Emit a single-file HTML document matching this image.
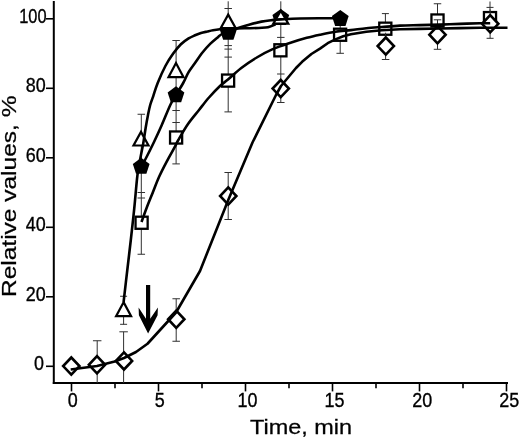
<!DOCTYPE html>
<html lang="en"><head><meta charset="utf-8"><title>Relative values vs time</title>
<style>html,body{margin:0;padding:0;background:#fff}svg{display:block}text{font-family:"Liberation Sans",sans-serif;fill:#000}</style></head><body>
<svg width="520" height="440" viewBox="0 0 520 440">
<rect width="520" height="440" fill="#fff"/>
<g stroke="#000" stroke-width="2" fill="none" stroke-linecap="butt">
<path d="M53.8 1V383.9"/>
<path d="M52.8 382.9H508"/>
</g>
<g stroke="#000" stroke-width="1.6" fill="none">
<path d="M46 366.30H53"/>
<path d="M46 296.80H53"/>
<path d="M46 227.30H53"/>
<path d="M46 157.80H53"/>
<path d="M46 88.30H53"/>
<path d="M46 18.80H53"/>
<path d="M71.50 383V391.4"/>
<path d="M158.50 383V391.4"/>
<path d="M245.50 383V391.4"/>
<path d="M332.50 383V391.4"/>
<path d="M419.50 383V391.4"/>
<path d="M506.50 383V391.4"/>
<path d="M115.00 383V388.3"/>
<path d="M202.00 383V388.3"/>
<path d="M289.00 383V388.3"/>
<path d="M376.00 383V388.3"/>
<path d="M463.00 383V388.3"/>
</g>
<g font-size="20.5" stroke="#000" stroke-width="0.35">
<text transform="translate(44.1 370.30) scale(0.8750 1)" text-anchor="end">0</text>
<text transform="translate(45.8 300.80) scale(0.8750 1)" text-anchor="end">20</text>
<text transform="translate(45.8 231.30) scale(0.8750 1)" text-anchor="end">40</text>
<text transform="translate(45.8 161.80) scale(0.8750 1)" text-anchor="end">60</text>
<text transform="translate(45.8 92.30) scale(0.8750 1)" text-anchor="end">80</text>
<text transform="translate(46.6 22.80) scale(0.8006 1)" text-anchor="end">100</text>
<text transform="translate(72.80 407.1) scale(0.875 1)" text-anchor="middle">0</text>
<text transform="translate(159.80 407.1) scale(0.875 1)" text-anchor="middle">5</text>
<text transform="translate(247.40 407.1) scale(0.875 1)" text-anchor="middle">10</text>
<text transform="translate(334.40 407.1) scale(0.875 1)" text-anchor="middle">15</text>
<text transform="translate(422.20 407.1) scale(0.875 1)" text-anchor="middle">20</text>
<text transform="translate(509.20 407.1) scale(0.875 1)" text-anchor="middle">25</text>
</g>
<text transform="translate(301 434.1) scale(1.19 1)" font-size="19.7" text-anchor="middle" stroke="#000" stroke-width="0.25">Time, min</text>
<text transform="translate(16.3 196.3) rotate(-90) scale(1.225 1)" font-size="20" text-anchor="middle" stroke="#000" stroke-width="0.25">Relative values, %</text>
<path d="M123.60 296.25V324.50M120.10 296.25H127.10M120.10 324.30H127.10M141.30 114.25V254.25M137.55 114.25H145.05M137.55 192.50H145.05M137.55 198.00H145.05M137.55 254.25H145.05M176.10 40.50V163.90M172.35 40.50H179.85M172.35 110.50H179.85M172.35 122.50H179.85M172.35 163.90H179.85M228.20 1.30V111.90M224.45 8.50H231.95M224.45 45.60H231.95M224.45 49.10H231.95M224.45 57.10H231.95M224.45 111.90H231.95M280.80 1.30V63.00M277.05 37.40H284.55M340.20 18.00V53.30M336.45 53.30H343.95M385.40 13.60V40.00M381.90 13.60H388.90M437.50 3.75V30.00M433.75 3.75H441.25M490.00 1.50V28.00M486.50 7.40H493.50" stroke="#303030" stroke-width="1" fill="none"/>
<g stroke="#000" stroke-width="2.3" fill="#fff">
<rect x="135.55" y="216.70" width="12.1" height="12.1"/>
<rect x="170.05" y="131.45" width="12.1" height="12.1"/>
<rect x="222.05" y="74.55" width="12.1" height="12.1"/>
<rect x="274.35" y="44.25" width="12.1" height="12.1"/>
<rect x="334.05" y="28.70" width="12.1" height="12.1"/>
<rect x="379.25" y="22.65" width="12.1" height="12.1"/>
<rect x="431.45" y="14.45" width="12.1" height="12.1"/>
<rect x="483.95" y="12.05" width="12.1" height="12.1"/>
</g>
<g fill="#000">
<polygon points="141.20,157.80 149.57,163.88 146.37,173.72 136.03,173.72 132.83,163.88"/>
<polygon points="176.00,86.30 184.37,92.38 181.17,102.22 170.83,102.22 167.63,92.38"/>
<polygon points="228.30,23.90 236.67,29.98 233.47,39.82 223.13,39.82 219.93,29.98"/>
<polygon points="280.80,9.00 289.17,15.08 285.97,24.92 275.63,24.92 272.43,15.08"/>
<polygon points="340.30,10.00 348.67,16.08 345.47,25.92 335.13,25.92 331.93,16.08"/>
</g>
<g stroke="#000" stroke-width="2.2" fill="#fff" stroke-linejoin="miter">
<polygon points="123.60,302.20 116.10,316.20 131.10,316.20"/>
<polygon points="141.00,131.90 133.50,145.50 148.50,145.50"/>
<polygon points="176.00,63.00 168.50,77.20 183.50,77.20"/>
<polygon points="228.20,14.60 220.70,28.20 235.70,28.20"/>
<polygon points="280.80,10.70 273.30,23.60 288.30,23.60"/>
</g>
<path d="M97.20 340.75V383.00M92.95 340.75H101.45M123.60 331.80V383.00M119.35 331.80H127.85M176.20 298.75V341.25M172.45 298.75H179.95M172.45 341.25H179.95M228.20 172.50V219.50M224.45 172.50H231.95M224.45 219.50H231.95M280.80 63.00V102.50M277.05 74.00H284.55M277.05 102.50H284.55M385.60 32.70V59.50M381.85 59.50H389.35M437.50 19.80V49.30M433.75 19.80H441.25M433.75 49.30H441.25M490.10 9.30V38.30M486.60 38.30H493.60" stroke="#303030" stroke-width="1" fill="none"/>
<g stroke="#000" stroke-width="2.6" fill="#fff" stroke-linejoin="miter">
<polygon points="71.30,357.50 79.45,366.10 71.30,374.70 63.15,366.10"/>
<polygon points="97.00,356.20 105.15,364.80 97.00,373.40 88.85,364.80"/>
<polygon points="124.00,352.30 132.15,360.90 124.00,369.50 115.85,360.90"/>
<polygon points="176.25,310.65 184.40,319.25 176.25,327.85 168.10,319.25"/>
<polygon points="228.25,187.40 236.40,196.00 228.25,204.60 220.10,196.00"/>
<polygon points="280.75,80.00 288.90,88.60 280.75,97.20 272.60,88.60"/>
<polygon points="385.80,37.50 393.95,46.10 385.80,54.70 377.65,46.10"/>
<polygon points="437.50,26.10 445.65,34.70 437.50,43.30 429.35,34.70"/>
<polygon points="490.20,15.20 498.35,23.80 490.20,32.40 482.05,23.80"/>
</g>
<path d="M141.25 167.00 C142.09 165.42 144.18 161.67 146.30 157.50 C148.43 153.33 151.42 147.42 154.00 142.00 C156.58 136.58 159.08 131.17 161.80 125.00 C164.52 118.83 167.93 110.00 170.30 105.00 C172.67 100.00 173.85 98.67 176.00 95.00 C178.15 91.33 181.10 86.82 183.20 83.00 C185.30 79.18 186.63 75.43 188.60 72.10 C190.57 68.77 192.65 66.30 195.00 63.00 C197.35 59.70 200.13 55.52 202.70 52.30 C205.27 49.08 207.82 46.27 210.40 43.70 C212.98 41.13 216.27 38.52 218.20 36.90 C220.13 35.28 220.37 34.98 222.00 34.00 C223.63 33.02 225.55 31.93 228.00 31.00 C230.45 30.07 233.20 29.45 236.70 28.40 C240.20 27.35 244.88 25.83 249.00 24.70 C253.12 23.57 257.53 22.37 261.40 21.60 C265.27 20.83 268.93 20.47 272.20 20.10 C275.47 19.73 276.37 19.67 281.00 19.40 C285.63 19.13 290.17 18.70 300.00 18.50 C309.83 18.30 333.33 18.25 340.00 18.20" stroke="#000" stroke-width="2.6" fill="none" stroke-linejoin="round"/>
<path d="M123.60 302.00 C124.22 296.67 126.10 280.33 127.30 270.00 C128.50 259.67 129.63 250.33 130.80 240.00 C131.97 229.67 133.20 218.75 134.30 208.00 C135.40 197.25 136.37 183.92 137.40 175.50 C138.43 167.08 139.53 162.82 140.50 157.50 C141.47 152.18 142.35 148.48 143.20 143.60 C144.05 138.72 144.80 132.97 145.60 128.20 C146.40 123.43 147.23 118.87 148.00 115.00 C148.77 111.13 149.33 108.12 150.20 105.00 C151.07 101.88 151.95 99.97 153.20 96.30 C154.45 92.63 155.67 88.05 157.70 83.00 C159.73 77.95 162.82 70.90 165.40 66.00 C167.98 61.10 170.62 57.22 173.20 53.60 C175.78 49.98 178.33 46.83 180.90 44.30 C183.47 41.77 186.25 39.90 188.60 38.40 C190.95 36.90 192.93 36.20 195.00 35.30 C197.07 34.40 198.93 33.63 201.00 33.00 C203.07 32.37 205.40 31.95 207.40 31.50 C209.40 31.05 210.95 30.67 213.00 30.30 C215.05 29.93 217.20 29.58 219.70 29.30 C222.20 29.02 225.17 28.75 228.00 28.60 C230.83 28.45 233.03 28.47 236.70 28.40 C240.37 28.33 245.78 28.30 250.00 28.20 C254.22 28.10 259.00 27.97 262.00 27.80 C265.00 27.63 266.33 27.52 268.00 27.20 C269.67 26.88 270.75 26.38 272.00 25.90 C273.25 25.42 274.92 24.57 275.50 24.30" stroke="#000" stroke-width="2.6" fill="none" stroke-linejoin="round"/>
<path d="M141.50 222.00 C142.35 219.67 144.72 212.92 146.60 208.00 C148.48 203.08 150.73 197.67 152.80 192.50 C154.87 187.33 156.68 182.15 159.00 177.00 C161.32 171.85 164.13 166.48 166.70 161.60 C169.27 156.72 172.47 151.30 174.40 147.70 C176.33 144.10 176.03 143.95 178.30 140.00 C180.57 136.05 184.55 129.00 188.00 124.00 C191.45 119.00 195.50 114.42 199.00 110.00 C202.50 105.58 205.50 101.50 209.00 97.50 C212.50 93.50 216.83 89.00 220.00 86.00 C223.17 83.00 224.45 82.50 228.00 79.50 C231.55 76.50 236.50 71.67 241.30 68.00 C246.10 64.33 251.65 60.60 256.80 57.50 C261.95 54.40 266.45 51.90 272.20 49.40 C277.95 46.90 285.53 44.43 291.30 42.50 C297.07 40.57 302.02 39.10 306.80 37.80 C311.58 36.50 315.23 35.72 320.00 34.70 C324.77 33.68 330.25 32.47 335.40 31.70 C340.55 30.93 345.75 30.67 350.90 30.10 C356.05 29.53 361.15 28.82 366.30 28.30 C371.45 27.78 376.18 27.45 381.80 27.00 C387.42 26.55 393.63 25.92 400.00 25.60 C406.37 25.28 413.33 25.27 420.00 25.10 C426.67 24.93 433.33 24.80 440.00 24.60 C446.67 24.40 453.33 24.12 460.00 23.90 C466.67 23.68 474.97 23.42 480.00 23.30 C485.03 23.18 488.50 23.22 490.20 23.20" stroke="#000" stroke-width="2.6" fill="none" stroke-linejoin="round"/>
<path d="M70.70 369.50 L97.00 366.00 L114.70 361.50 L124.00 358.00 L136.00 352.00 L147.50 343.75 L176.00 312.50 L200.00 271.00 L228.25 200.00 L252.50 142.50 L276.00 95.00 L281.00 86.00 L296.00 68.00 L302.10 61.80 L311.40 54.00 L320.00 48.60 L327.70 43.20 L335.40 39.40 L343.20 36.30 L350.90 34.30 L366.30 31.70 L381.80 30.20 L400.00 29.30 L420.00 28.90 L440.00 28.50 L460.00 28.10 L480.00 27.80 L507.50 27.80" stroke="#000" stroke-width="2.6" fill="none" stroke-linejoin="round"/>
<path d="M146 285H150.2V318.8L157.9 307.4L157.6 315.3L148.1 333.6L138.9 315.3L138.6 307.4L146 318.8Z" fill="#000"/>
</svg></body></html>
